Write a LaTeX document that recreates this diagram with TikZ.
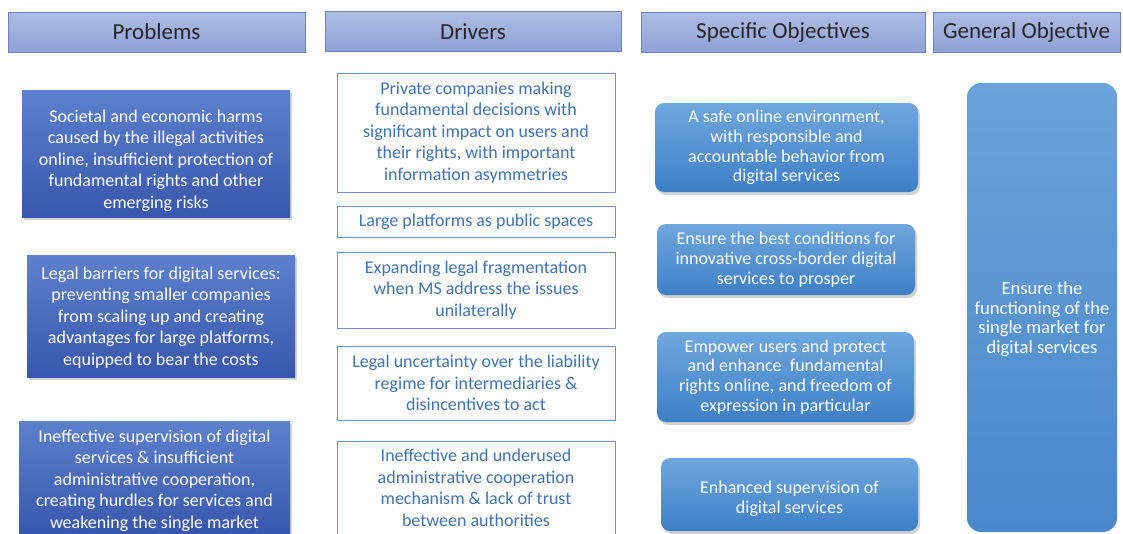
\documentclass[tikz,border=0pt]{standalone}
\usepackage{fontspec}
\setmainfont{Carlito}
\usetikzlibrary{shadows}
\definecolor{hdrtop}{HTML}{AEBDE4}
\definecolor{hdrbot}{HTML}{8EA2D6}
\definecolor{hdrline}{HTML}{6E82B8}
\definecolor{probtop}{HTML}{5D80CE}
\definecolor{probbot}{HTML}{3857AC}
\definecolor{drvline}{HTML}{6E93C6}
\definecolor{drvtext}{HTML}{3F73B6}
\definecolor{objtop}{HTML}{6FA7DE}
\definecolor{objbot}{HTML}{3D7FC6}
\definecolor{gentop}{HTML}{6AA2DA}
\definecolor{genbot}{HTML}{4A88CB}
% strut to push a text block down inside its box
\newcommand{\sinkby}[1]{\rule{0pt}{#1}}
\begin{document}
\begin{tikzpicture}[x=1pt,y=-1pt,
  header/.style={draw=hdrline, top color=hdrtop, bottom color=hdrbot, minimum height=40pt,
    inner sep=0pt, font=\fontsize{23}{27}\selectfont, text=black!85},
  probbox/.style={top color=probtop, bottom color=probbot, text=white, align=center,
    inner sep=0pt, font=\fontsize{18}{21.5}\selectfont,
    drop shadow={shadow xshift=2pt, shadow yshift=-3pt, opacity=.35}},
  drvbox/.style={draw=drvline, fill=white, text=drvtext, align=center, inner sep=0pt,
    font=\fontsize{18}{21.5}\selectfont},
  objbox/.style={rounded corners=9pt, top color=objtop, bottom color=objbot, text=white,
    align=center, inner sep=0pt, font=\fontsize{18}{19.8}\selectfont,
    drop shadow={shadow xshift=2pt, shadow yshift=-3pt, opacity=.35}},
  genbox/.style={rounded corners=14pt, top color=gentop, bottom color=genbot, text=white,
    align=center, inner sep=0pt, font=\fontsize{18.6}{19.5}\selectfont}]
  \useasboundingbox[fill=white] (0,0) rectangle (1123,533);
  % column headers
  \node (hprob) [header, minimum width=297pt] at (156.5,32) {Problems};
  \node (hdrv)  [header, minimum width=296pt] at (473,31.5) {Drivers};
  \node (hspec) [header, minimum width=284pt] at (783,32) {Specific Objectives};
  \node (hgen)  [header, minimum width=187pt] at (1026.5,32) {General Objective};
  % problems
  \node (p1) [probbox, minimum width=268pt, minimum height=127pt] at (156,153.5)
    {\sinkby{26.5pt}Societal and economic harms\\caused by the illegal activities\\online, insufficient protection of\\fundamental rights and other\\emerging risks};
  \node (p2) [probbox, minimum width=268pt, minimum height=122pt] at (161,316)
    {\sinkby{15pt}Legal barriers for digital services:\\preventing smaller companies\\from scaling up and creating\\advantages for large platforms,\\equipped to bear the costs};
  \node (p3) [probbox, minimum width=271pt, minimum height=113pt] at (154.5,477.5)
    {\sinkby{18.5pt}Ineffective supervision of digital\\services \& insufficient\\administrative cooperation,\\creating hurdles for services and\\weakening the single market};
  % drivers
  \node (d1) [drvbox, minimum width=278pt, minimum height=119pt] at (476,132.5)
    {Private companies making\\fundamental decisions with\\significant impact on users and\\their rights, with important\\information asymmetries};
  \node (d2) [drvbox, minimum width=278pt, minimum height=31pt] at (476,221.5)
    {Large platforms as public spaces};
  \node (d3) [drvbox, minimum width=278pt, minimum height=76pt] at (476,290)
    {Expanding legal fragmentation\\when MS address the issues\\unilaterally};
  \node (d4) [drvbox, minimum width=278pt, minimum height=74pt] at (476,383)
    {Legal uncertainty over the liability\\regime for intermediaries \&\\disincentives to act};
  \node (d5) [drvbox, minimum width=278pt, minimum height=94pt] at (476,488)
    {Ineffective and underused\\administrative cooperation\\mechanism \& lack of trust\\between authorities};
  % specific objectives
  \node (s1) [objbox, minimum width=263pt, minimum height=89pt] at (786.5,147.5)
    {A safe online environment,\\with responsible and\\accountable behavior from\\digital services};
  \node (s2) [objbox, minimum width=258pt, minimum height=71pt] at (786,259.5)
    {Ensure the best conditions for\\innovative cross-border digital\\services to prosper};
  \node (s3) [objbox, minimum width=257pt, minimum height=90pt] at (785.5,377)
    {Empower users and protect\\and enhance\ \ fundamental\\rights online, and freedom of\\expression in particular};
  \node (s4) [objbox, minimum width=257pt, minimum height=73pt] at (789.5,494.5)
    {\sinkby{21.5pt}Enhanced supervision of\\digital services};
  % general objective
  \node (g1) [genbox, minimum width=150pt, minimum height=449pt] at (1042,307.5)
    {\sinkby{36pt}Ensure the\\functioning of the\\single market for\\digital services};
\end{tikzpicture}
\end{document}
